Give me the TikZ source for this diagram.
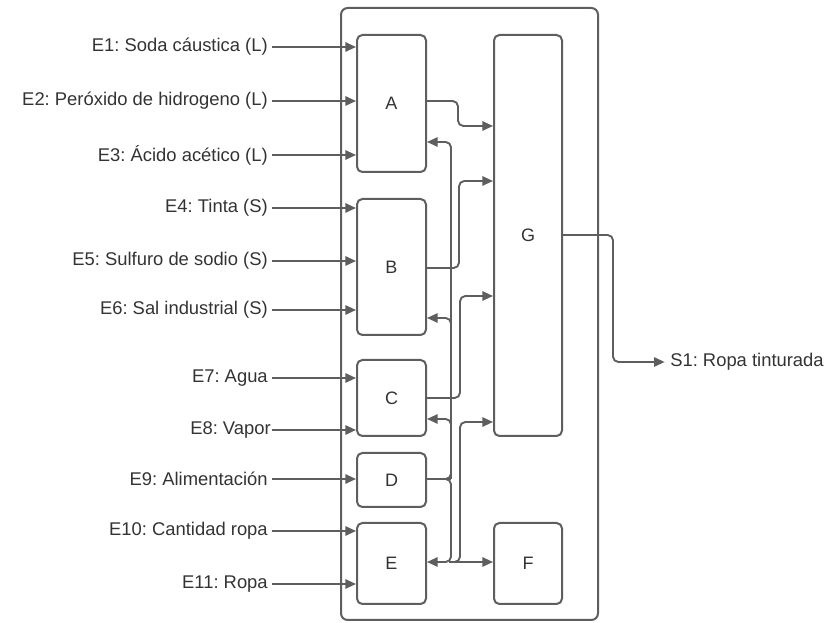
\documentclass[tikz,border=0pt]{standalone}
\usepackage{fontspec}
\setmainfont{Liberation Sans}
\usetikzlibrary{arrows.meta}
\definecolor{ln}{HTML}{5E5E5E}
\definecolor{tx}{HTML}{333333}
\frenchspacing
\tikzset{
  box/.style={draw=ln, line width=1.5pt, rounded corners=4pt, inner sep=0pt, text=tx, font=\fontsize{13.5pt}{15pt}\selectfont},
  lab/.style={inner sep=0pt, text=tx, font=\fontsize{13.8pt}{15pt}\selectfont},
  conn/.style={draw=ln, line width=1.4pt, -{Triangle[length=8pt,width=7pt]}, rounded corners=4pt},
  plain/.style={draw=ln, line width=1.4pt, rounded corners=4pt}
}
\begin{document}
\frenchspacing
\begin{tikzpicture}[x=0.75pt, y=-0.75pt]
\useasboundingbox (0,0) rectangle (833,623);
% container
\node[box, rounded corners=5pt, minimum width=192.75pt, minimum height=459pt] (cont) at (469.5,314) {};
% boxes
\node[box, minimum width=51.75pt, minimum height=102.75pt] (A) at (391.5,103.5) {A};
\node[box, minimum width=51.75pt, minimum height=102pt] (B) at (391.5,267) {B};
\node[box, minimum width=51.75pt, minimum height=57pt] (C) at (391.5,398) {C};
\node[box, minimum width=51.75pt, minimum height=40.5pt] (D) at (391.5,480) {D};
\node[box, minimum width=51.75pt, minimum height=60.75pt] (E) at (391.5,563.5) {E};
\node[box, minimum width=51pt, minimum height=300.75pt] (G) at (528,235.5) {G};
\node[box, minimum width=51pt, minimum height=60.75pt] (F) at (528,563.5) {F};
% input labels
\node[lab, anchor=east] (e1) at (268,47) {E1: Soda cáustica (L)};
\node[lab, anchor=east] (e2) at (268,101) {E2: Peróxido de hidrogeno (L)};
\node[lab, anchor=east] (e3) at (268,155) {E3: Ácido acético (L)};
\node[lab, anchor=east] (e4) at (268,208) {E4: Tinta (S)};
\node[lab, anchor=east] (e5) at (268,261) {E5: Sulfuro de sodio (S)};
\node[lab, anchor=east] (e6) at (268,310) {E6: Sal industrial (S)};
\node[lab, anchor=east] (e7) at (268,378) {E7: Agua};
\node[lab, anchor=east] (e8) at (271,430) {E8: Vapor};
\node[lab, anchor=east] (e9) at (268,479) {E9: Alimentación};
\node[lab, anchor=east] (e10) at (268,531) {E10: Cantidad ropa};
\node[lab, anchor=east] (e11) at (268,584) {E11: Ropa};
\node[lab, anchor=west] (s1) at (670,362) {S1: Ropa tinturada};
% input arrows
\foreach \e/\b/\s in {e1/A/3,e2/A/3,e3/A/3,e4/B/3,e5/B/3,e6/B/3,e7/C/3,e8/C/0.5,e9/D/3,e10/E/3,e11/E/3}
  \draw[conn] ([xshift=\s pt]\e.east) -- (\b.west |- \e.east);
% internal connectors
\draw[conn] (A.east |- 0,101) -- (458,101) -- (458,126) -- (G.west |- 0,126);
\draw[conn] (B.east |- 0,268) -- (459,268) -- (459,181) -- (G.west |- 0,181);
\draw[conn] (C.east |- 0,398) -- (460,398) -- (460,296) -- (G.west |- 0,296);
\coordinate (jd) at (451,479);
\draw[plain] (D.east |- jd) -- (jd);
\draw[conn] (D.east |- jd) -- (451,479) -- (451,142) -- (A.east |- 0,142);
\draw[conn] (451,479) -- (451,318) -- (B.east |- 0,318);
\draw[conn] (451,479) -- (451,419) -- (C.east |- 0,419);
\draw[conn] (D.east |- jd) -- (451,479) -- (451,562) -- (E.east |- 0,562);
\draw[conn] (451,562) -- (F.west |- 0,562);
\draw[conn] (449,562) -- (460,562) -- (460,422) -- (G.west |- 0,422);
% output
\draw[conn] (G.east |- 0,235) -- (613,235) -- (613,362) -- ([xshift=-4pt]s1.west);
\end{tikzpicture}
\end{document}
